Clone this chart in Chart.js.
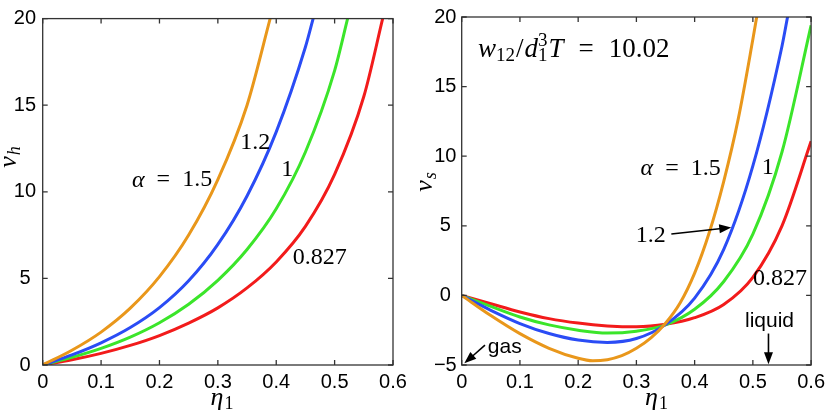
<!DOCTYPE html>
<html>
<head>
<meta charset="utf-8">
<title>nu_h and nu_s versus eta_1</title>
<script src="https://cdn.jsdelivr.net/npm/chart.js@4.4.0/dist/chart.umd.min.js"></script>
<style>
  html,body{margin:0;padding:0;background:#fff;}
  #wrap{position:relative;width:830px;height:412px;overflow:hidden;}
  .pane{position:absolute;top:0;width:415px;height:412px;}
  #pL{left:0;} #pR{left:415px;}
</style>
</head>
<body>
<div id="wrap">
  <div class="pane" id="pL"><canvas id="cL" width="415" height="412"></canvas></div>
  <div class="pane" id="pR"><canvas id="cR" width="415" height="412"></canvas></div>
</div>
<script>
/* ---- data ---- */
const xTicks=[0,0.1,0.2,0.3,0.4,0.5,0.6];
const xTickLabels=['0','0.1','0.2','0.3','0.4','0.5','0.6'];
const yTicksH=[0,5,10,15,20];
const yTickLabelsH=['0','5','10','15','20'];
const yTicksS=[-5,0,5,10,15,20];
const yTickLabelsS=['\u22125','0','5','10','15','20'];

// left panel: nu_h
const etaH15=[0,0.05,0.1,0.15,0.2,0.25,0.3,0.35,0.39];
const nuH15 =[0,0.85,1.9,3.28,5.1,7.5,10.7,15.0,20.05];
const etaH12=[0,0.05,0.1,0.15,0.2,0.25,0.3,0.35,0.4,0.45,0.464];
const nuH12 =[0,0.58,1.28,2.16,3.31,4.86,6.96,9.76,13.46,18.36,20.1];
const etaH10=[0,0.05,0.1,0.15,0.2,0.25,0.3,0.35,0.4,0.45,0.5,0.523];
const nuH10 =[0,0.44,0.96,1.61,2.44,3.51,4.89,6.67,9.02,12.3,17.0,20.1];
const etaH08=[0,0.05,0.1,0.15,0.2,0.25,0.3,0.35,0.4,0.45,0.5,0.55,0.583];
const nuH08 =[0,0.3,0.67,1.13,1.7,2.42,3.3,4.45,5.95,8.0,11.0,15.5,20.1];

// right panel: nu_s
const etaS15=[0,0.05,0.1,0.15,0.2,0.225,0.25,0.275,0.3,0.325,0.35,0.375,0.4,0.425,0.45,0.475,0.5,0.507];
const nuS15 =[0,-1.45,-2.75,-3.8,-4.52,-4.7,-4.62,-4.33,-3.8,-3.05,-2.0,-0.55,1.6,4.5,8.2,12.7,18.4,20.1];
const etaS12=[0,0.05,0.1,0.15,0.2,0.25,0.3,0.35,0.4,0.45,0.5,0.55,0.56];
const nuS12 =[0,-1.07,-2.02,-2.74,-3.21,-3.38,-3.1,-2.1,-0.2,3.3,9.3,17.9,20.1];
const etaS=[0,0.05,0.1,0.15,0.2,0.25,0.3,0.35,0.4,0.45,0.5,0.55,0.6];
const nuS10 =[0,-0.79,-1.55,-2.12,-2.5,-2.71,-2.57,-2.12,-1.0,1.0,4.4,10.3,19.4];
const nuS08 =[0,-0.6,-1.19,-1.67,-1.99,-2.19,-2.26,-2.08,-1.6,-0.65,1.3,5.0,11.07];

/* ---- styling ---- */
const ORANGE='#E9971B',BLUE='#2A4CF5',GREEN='#3BE52A',RED='#F21B1B';
const SERIF="'Liberation Serif','DejaVu Serif',serif";
const SANS="'Liberation Sans',Arial,sans-serif";
const IT=s=>'italic '+s+'px '+SERIF, RM=s=>s+'px '+SERIF;

const pts=(xs,ys)=>xs.map((x,i)=>({x,y:ys[i]}));
const ds=(xs,ys,c)=>({data:pts(xs,ys),borderColor:c,borderWidth:3,pointRadius:0,fill:false,cubicInterpolationMode:'monotone'});

function runs(ctx,r,x,y,align){
  let w=0;
  r.forEach(p=>{ctx.font=p.f;p.w=p.adv===false?0:ctx.measureText(p.t).width;w+=p.w+(p.s||0);});
  let cx=align==='left'?x:(align==='right'?x-w:x-w/2);
  ctx.textAlign='left';ctx.textBaseline='middle';ctx.fillStyle='#000';
  r.forEach(p=>{cx+=(p.s||0);ctx.font=p.f;ctx.fillText(p.t,cx,y+(p.dy||0));cx+=p.w;});
}
function arrow(ctx,x1,y1,x2,y2){
  const a=Math.atan2(y2-y1,x2-x1),L=12,W=4.5,c=Math.cos(a),s=Math.sin(a);
  ctx.strokeStyle='#000';ctx.fillStyle='#000';ctx.lineWidth=1.6;
  ctx.beginPath();ctx.moveTo(x1,y1);ctx.lineTo(x2-L*0.8*c,y2-L*0.8*s);ctx.stroke();
  ctx.beginPath();ctx.moveTo(x2,y2);
  ctx.lineTo(x2-L*c+W*s,y2-L*s-W*c);ctx.lineTo(x2-L*c-W*s,y2-L*s+W*c);
  ctx.closePath();ctx.fill();
}

// frame, inward ticks, axis titles, labels
const deco={id:'deco',
  afterDatasetsDraw(chart,args,o){
    const {ctx,chartArea:a,scales:{x,y}}=chart;
    ctx.save();
    ctx.strokeStyle='#333';ctx.lineWidth=1.3;
    ctx.strokeRect(a.left,a.top,a.right-a.left,a.bottom-a.top);
    const T=5;
    ctx.beginPath();
    x.ticks.forEach(t=>{const p=x.getPixelForValue(t.value);ctx.moveTo(p,a.bottom);ctx.lineTo(p,a.bottom-T);ctx.moveTo(p,a.top);ctx.lineTo(p,a.top+T);});
    y.ticks.forEach(t=>{const p=y.getPixelForValue(t.value);ctx.moveTo(a.left,p);ctx.lineTo(a.left+T,p);ctx.moveTo(a.right,p);ctx.lineTo(a.right-T,p);});
    ctx.stroke();
    (o.notes||[]).forEach(n=>runs(ctx,n.r,x.getPixelForValue(n.x),y.getPixelForValue(n.y),n.align||'center'));
    (o.arrows||[]).forEach(v=>arrow(ctx,x.getPixelForValue(v[0]),y.getPixelForValue(v[1]),x.getPixelForValue(v[2]),y.getPixelForValue(v[3])));
    runs(ctx,o.xTitle.r,o.xTitle.px,o.xTitle.py,'center');
    ctx.translate(o.yTitle.px,o.yTitle.py);ctx.rotate(-Math.PI/2);
    runs(ctx,o.yTitle.r,0,0,'center');
    ctx.restore();
  }};

function mkChart(id,sets,yMin,yMax,yTicks,yLabels,yW,padR,yPad,decoOpts){
  return new Chart(document.getElementById(id),{
    type:'line',
    data:{datasets:sets},
    plugins:[deco],
    options:{
      responsive:false,animation:false,events:[],
      layout:{padding:{top:15,right:padR,left:0,bottom:0}},
      plugins:{legend:{display:false},tooltip:{enabled:false},deco:decoOpts},
      scales:{
        x:{type:'linear',min:0,max:0.6,
          grid:{display:false,drawTicks:false},border:{display:false},
          afterBuildTicks:s=>{s.ticks=xTicks.map(v=>({value:v}));},
          ticks:{callback:(v,i)=>xTickLabels[i],font:{family:SANS,size:20},color:'#000',padding:5,maxRotation:0,autoSkip:false},
          afterFit:s=>{s.height=47;}},
        y:{type:'linear',min:yMin,max:yMax,
          grid:{display:false,drawTicks:false},border:{display:false},
          afterBuildTicks:s=>{s.ticks=yTicks.map(v=>({value:v}));},
          ticks:{callback:(v,i)=>yLabels[i],font:{family:SANS,size:20},color:'#000',padding:yPad,crossAlign:'center',autoSkip:false},
          afterFit:s=>{s.width=yW;}}
      }
    }
  });
}

const N24=RM(24);
mkChart('cL',[
  ds(etaH15,nuH15,ORANGE),ds(etaH12,nuH12,BLUE),ds(etaH10,nuH10,GREEN),ds(etaH08,nuH08,RED)
],0,20,yTicksH,yTickLabelsH,42.7,22,6.6,{
  notes:[
    {x:0.2216,y:10.67,r:[{t:'\u03b1',f:IT(24)},{t:'=',f:N24,s:12},{t:'1.5',f:N24,s:12}]},
    {x:0.364,y:12.84,r:[{t:'1.2',f:N24}]},
    {x:0.4187,y:11.3,r:[{t:'1',f:N24}]},
    {x:0.4744,y:6.21,r:[{t:'0.827',f:N24}]}
  ],
  xTitle:{px:222,py:398,r:[{t:'\u03b7',f:IT(26)},{t:'1',f:RM(18),dy:6,s:1}]},
  yTitle:{px:9,py:157,r:[{t:'\u03bd',f:IT(26)},{t:'h',f:IT(18),dy:6,s:1}]}
});

mkChart('cR',[
  ds(etaS15,nuS15,ORANGE),ds(etaS12,nuS12,BLUE),ds(etaS,nuS10,GREEN),ds(etaS,nuS08,RED)
],-5,20,yTicksS,yTickLabelsS,46.7,18.3,5,{
  notes:[
    {x:0.028,y:17.64,align:'left',r:[
      {t:'w',f:IT(27)},{t:'12',f:RM(19),dy:6},{t:'/',f:RM(27),s:1},{t:'d',f:IT(27),s:1},
      {t:'3',f:RM(19),dy:-9,adv:false},{t:'1',f:RM(19),dy:6},{t:'T',f:IT(27),s:1},
      {t:'=',f:RM(27),s:15},{t:'10.02',f:RM(27),s:15}]},
    {x:0.3759,y:9.11,r:[{t:'\u03b1',f:IT(24)},{t:'=',f:N24,s:12},{t:'1.5',f:N24,s:12}]},
    {x:0.5257,y:9.14,r:[{t:'1',f:N24}]},
    {x:0.3245,y:4.29,r:[{t:'1.2',f:N24}]},
    {x:0.5465,y:1.21,r:[{t:'0.827',f:N24}]},
    {x:0.5286,y:-1.86,r:[{t:'liquid',f:'21px '+SANS}]},
    {x:0.074,y:-3.75,r:[{t:'gas',f:'21px '+SANS}]}
  ],
  arrows:[[0.36,4.41,0.4629,4.88],[0.5268,-2.74,0.5268,-4.95],[0.04,-3.57,0.0045,-4.88]],
  xTitle:{px:241.5,py:398,r:[{t:'\u03b7',f:IT(26)},{t:'1',f:RM(18),dy:6,s:1}]},
  yTitle:{px:10,py:182,r:[{t:'\u03bd',f:IT(26)},{t:'s',f:IT(18),dy:6,s:1}]}
});
</script>
</body>
</html>
